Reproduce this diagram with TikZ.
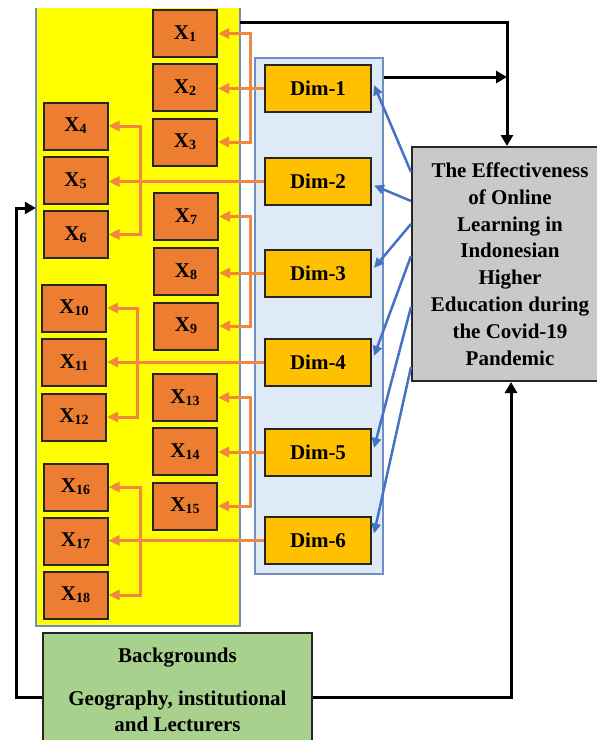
\documentclass[tikz,border=0pt]{standalone}
\usepackage{fontspec}
\setmainfont{Liberation Serif}
\usetikzlibrary{arrows.meta,calc}

\definecolor{panelyellow}{HTML}{FFFF00}
\definecolor{panelblue}{HTML}{DEEBF7}
\definecolor{panelline}{HTML}{6F8FC2}
\definecolor{dimfill}{HTML}{FFC000}
\definecolor{xfill}{HTML}{ED7D31}
\definecolor{linkorange}{HTML}{F2873F}
\definecolor{linkblue}{HTML}{4472C4}
\definecolor{greyfill}{HTML}{C9C9C9}
\definecolor{greenfill}{HTML}{A9D18E}

\newcommand\lblfont{\fontsize{21}{26.8}\selectfont\bfseries}
\newcommand\xlab[1]{X\raisebox{-2pt}{\fontsize{14}{14}\selectfont #1}}

\tikzset{
  xbox/.style={draw=black!85, line width=2pt, fill=xfill, minimum width=64pt,
    minimum height=47pt, inner sep=0pt, font=\lblfont},
  dimbox/.style={draw=black!85, line width=2pt, fill=dimfill, minimum width=106pt,
    minimum height=47pt, inner sep=0pt, font=\lblfont},
  olink/.style={draw=linkorange, line width=3pt,
    -{Triangle[length=11pt,width=10pt]}},
  obracket/.style={draw=linkorange, line width=3pt,
    {Triangle[length=11pt,width=10pt]}-{Triangle[length=11pt,width=10pt]}},
  blink/.style={draw=linkblue, line width=2.5pt,
    -{Triangle[length=10pt,width=9pt]}},
  klink/.style={draw=black, line width=3pt,
    -{Triangle[length=11pt,width=12pt]}},
}

\begin{document}
\begin{tikzpicture}[x=1pt,y=-1pt]
\useasboundingbox (0,0) rectangle (597,740);
\clip (0,0) rectangle (597,740);

% panels
\node[fill=panelyellow, minimum width=204pt, minimum height=618pt, inner sep=0pt]
  (ypanel) at (138,317) {};
\draw[panelline, line width=1.5pt] (ypanel.north west) -- (ypanel.south west)
  -- (ypanel.south east) -- (ypanel.north east);
\node[fill=panelblue, draw=panelline, line width=1.5pt, minimum width=128pt,
  minimum height=516pt, inner sep=0pt] (bpanel) at (319,316) {};

% outcome and background boxes
\node[fill=greyfill, draw=black!85, line width=2pt, minimum width=196pt,
  minimum height=234pt, inner sep=0pt, align=center, font=\lblfont]
  (grey) at (510,264) {The Effectiveness\\of Online\\Learning in\\Indonesian\\Higher\\Education during\\the Covid-19\\Pandemic};
\node[fill=greenfill, draw=black!85, line width=2pt, minimum width=269pt,
  minimum height=114pt, inner sep=0pt, align=center, font=\lblfont]
  (green) at (177.5,690) {Backgrounds\\[16pt]Geography, institutional\\and Lecturers};

% dimensions
\node[dimbox] (d1) at (318,88.5) {Dim-1};
\node[dimbox] (d2) at (318,181.5) {Dim-2};
\node[dimbox] (d3) at (318,273) {Dim-3};
\node[dimbox] (d4) at (318,362) {Dim-4};
\node[dimbox] (d5) at (318,452) {Dim-5};
\node[dimbox] (d6) at (318,540.5) {Dim-6};

% indicators, right column
\node[xbox] (x1) at (185,33.5) {\xlab{1}};
\node[xbox] (x2) at (185,87.5) {\xlab{2}};
\node[xbox] (x3) at (185,142) {\xlab{3}};
\node[xbox] (x7) at (186,216.5) {\xlab{7}};
\node[xbox] (x8) at (186,271.5) {\xlab{8}};
\node[xbox] (x9) at (186,326) {\xlab{9}};
\node[xbox] (x13) at (185,397.5) {\xlab{13}};
\node[xbox] (x14) at (185,451.5) {\xlab{14}};
\node[xbox] (x15) at (185,506) {\xlab{15}};
% indicators, left column
\node[xbox] (x4) at (75.5,126) {\xlab{4}};
\node[xbox] (x5) at (75.5,180.5) {\xlab{5}};
\node[xbox] (x6) at (75.5,234.5) {\xlab{6}};
\node[xbox] (x10) at (74,308) {\xlab{10}};
\node[xbox] (x11) at (74,362.5) {\xlab{11}};
\node[xbox] (x12) at (74,417) {\xlab{12}};
\node[xbox] (x16) at (75.5,487) {\xlab{16}};
\node[xbox] (x17) at (75.5,541) {\xlab{17}};
\node[xbox] (x18) at (75.5,595) {\xlab{18}};

% spines of the indicator brackets
\coordinate (sr) at (250,0);
\coordinate (sl1) at (140,0);
\coordinate (sl2) at (137,0);
\coordinate (sl3) at (140,0);

% dimension -> indicators
\draw[olink] (d1.west) -- (d1.west -| x2.east);
\draw[obracket] (x1.east) -- (x1.east -| sr) -- (x3.east -| sr) -- (x3.east);
\draw[olink] (d2.west) -- (d2.west -| x5.east);
\draw[obracket] (x4.east) -- (x4.east -| sl1) -- (x6.east -| sl1) -- (x6.east);
\draw[olink] (d3.west) -- (d3.west -| x8.east);
\draw[obracket] (x7.east) -- (x7.east -| sr) -- (x9.east -| sr) -- (x9.east);
\draw[olink] (d4.west) -- (d4.west -| x11.east);
\draw[obracket] (x10.east) -- (x10.east -| sl2) -- (x12.east -| sl2) -- (x12.east);
\draw[olink] (d5.west) -- (d5.west -| x14.east);
\draw[obracket] (x13.east) -- (x13.east -| sr) -- (x15.east -| sr) -- (x15.east);
\draw[olink] (d6.west) -- (d6.west -| x17.east);
\draw[obracket] (x16.east) -- (x16.east -| sl3) -- (x18.east -| sl3) -- (x18.east);

% outcome -> dimensions
\draw[blink] ($(grey.north west)+(0,26)$) -- ([xshift=2pt,yshift=3.5pt]d1.east);
\draw[blink] ($(grey.north west)+(0,55)$) -- ([xshift=2pt,yshift=-4pt]d2.east);
\draw[blink] ($(grey.north west)+(0,78)$) -- ([xshift=2pt,yshift=5pt]d3.east);
\draw[blink] ($(grey.north west)+(0,110)$) -- ([xshift=2pt,yshift=6pt]d4.east);
\draw[blink] ($(grey.north west)+(0,161)$) -- ([xshift=2pt,yshift=4pt]d5.east);
\draw[blink] ($(grey.north west)+(0,221)$) -- ([xshift=2pt,yshift=7pt]d6.east);

% feedback paths
\coordinate (topbend) at (507,22);
\draw[klink] (ypanel.east |- topbend) -- (topbend) -- (grey.north -| topbend);
\draw[klink] (bpanel.east |- 0,77) -- (topbend |- 0,77);
\coordinate (leftbend) at (16,208);
\draw[klink] ([yshift=-7pt]green.west) -| (leftbend) -- (ypanel.west |- leftbend);
\coordinate (rightbend) at (511,697);
\draw[klink] ([yshift=-7pt]green.east) -- (rightbend) -- (grey.south -| rightbend);
\end{tikzpicture}
\end{document}
